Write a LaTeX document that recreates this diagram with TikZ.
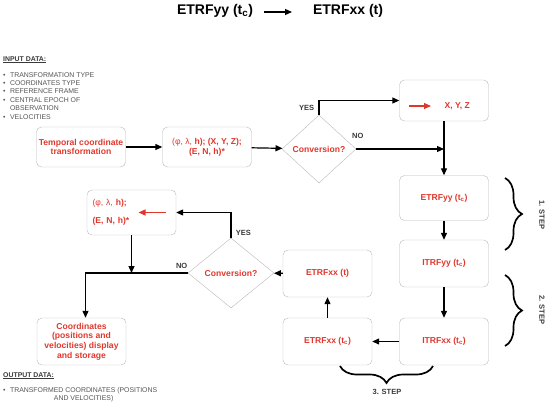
\documentclass[tikz,border=0pt]{standalone}
\usepackage{fontspec}
\setmainfont{Liberation Sans}
\usepackage{tikz}
\usepackage{xcolor}
\usetikzlibrary{shapes.geometric, arrows.meta, positioning, decorations.pathreplacing}
\definecolor{fcred}{HTML}{E0372C}
\definecolor{fcgray}{HTML}{B8B8B8}
\definecolor{fcdark}{HTML}{3A3A3A}
\definecolor{fcnote}{HTML}{555555}

\begin{document}
\begin{tikzpicture}[x=1pt, y=-1pt, font=\bfseries\fontsize{8.6}{9.8}\selectfont,
    box/.style={draw=fcgray, rounded corners=5pt, minimum width=89pt, minimum height=45pt,
        align=center, text=fcred, inner sep=2pt},
    decision/.style={diamond, draw=fcgray, inner sep=0pt, text=fcred},
    flow/.style={-{Triangle[length=7pt, width=6pt]}, line width=1.2pt, black},
    redflow/.style={-{Triangle[length=7pt, width=6pt]}, line width=1.2pt, fcred},
    tag/.style={font=\bfseries\fontsize{7.5}{8}\selectfont, text=fcdark},
    note/.style={font=\mdseries\fontsize{6.9}{8.4}\selectfont, text=fcnote, align=left, inner sep=0pt},
    stepbrace/.style={decorate, decoration={brace, amplitude=17pt}, line width=1.7pt}]
\useasboundingbox (0,0) rectangle (550,405);

\node[font=\bfseries\fontsize{14}{16}\selectfont] (ttl1) at (215,11) {ETRFyy (t\textsubscript{c})};
\node[font=\bfseries\fontsize{14}{16}\selectfont] (ttl2) at (348,11) {ETRFxx (t)};
\coordinate (ttla) at (264,12);
\coordinate (ttlb) at (292,12);
\draw[flow] (ttla) -- (ttlb);

\node[note, anchor=base west, text=fcdark] (indata) at (3,61) {\bfseries\underline{INPUT DATA:}};
\node[note, anchor=north west] (inlist) at (3,71) {%
    \begin{tabular}{@{}l@{\hspace{4.5pt}}l@{}}
    \textbullet & TRANSFORMATION TYPE\\
    \textbullet & COORDINATES TYPE\\
    \textbullet & REFERENCE FRAME\\
    \textbullet & CENTRAL EPOCH OF\\
                & OBSERVATION\\
    \textbullet & VELOCITIES
    \end{tabular}};

\node[box, minimum height=40pt] (temporal) at (81,147) {Temporal coordinate\\transformation};
\node[box, minimum height=40pt] (input) at (207,147) {{\mdseries(φ, λ,} h); (X, Y, Z);\\(E, N, h)*};
\node[decision, minimum width=74pt, minimum height=68pt] (conv1) at (319,149) {Conversion?};
\node[box, minimum height=41pt] (xyz) at (444,100.5) {};
\node[text=fcred, anchor=west] (xyzt) at ([xshift=-3pt, yshift=-5.5pt]xyz.center) {X, Y, Z};
\node[box] (etrfyyc) at (444,198) {ETRFyy (t\textsubscript{c})};
\node[box, minimum height=47pt] (itrfyyc) at (444,263.5) {ITRFyy (t\textsubscript{c})};
\node[box, minimum height=47pt] (itrfxxc) at (444,341.5) {ITRFxx (t\textsubscript{c})};
\node[box, minimum height=47pt] (etrfxxc) at (327.5,341.5) {ETRFxx (t\textsubscript{c})};
\node[box, minimum height=47pt] (etrfxxt) at (327.5,273.5) {ETRFxx (t)};
\node[decision, minimum width=86pt, minimum height=70pt] (conv2) at (231,273) {Conversion?};
\node[box, text width=78pt, inner xsep=5.5pt, align=left] (output) at (131.5,212.5)
    {{\mdseries(φ, λ,} h);\\[8.5pt](E, N, h)*};
\node[box, minimum height=47pt] (coords) at (81.5,341.5)
    {Coordinates\\(positions and\\velocities) display\\and storage};

\draw[redflow] ([xshift=-35pt, yshift=-5.5pt]xyz.center) -- ([xshift=-13pt, yshift=-5.5pt]xyz.center);
\draw[redflow] ([xshift=34pt]output.center) -- ([xshift=7pt]output.center);

\draw[flow] (temporal) -- (input);
\draw[flow] (input) -- (conv1);
\draw[flow] (conv1.north) |- node[tag, pos=0.25, left=1pt] (yes1) {YES} (xyz.west);
\coordinate (join1) at (conv1.east -| xyz.south);
\draw[flow] (conv1.east) -- node[tag, pos=0, above right=6pt and -8pt] (no1) {NO} (join1);
\draw[flow] (xyz) -- (etrfyyc);
\draw[flow] (etrfyyc) -- (itrfyyc);
\draw[flow] (itrfyyc) -- (itrfxxc);
\draw[flow] (itrfxxc) -- (etrfxxc);
\draw[flow] (etrfxxc) -- (etrfxxt);
\draw[flow] (etrfxxt) -- (conv2);
\draw[flow] (conv2.north) |- node[tag, pos=0.1, right=1pt] (yes2) {YES} (output.east);
\draw[flow] (conv2.west) -| node[tag, pos=0.03, above=0pt] (no2) {NO} ([xshift=4pt]coords.north);
\coordinate (join2) at (output.south |- conv2.west);
\draw[flow] (output) -- (join2);

\draw[stepbrace] (505,178) -- (505,250);
\node[tag, rotate=-90] (step1) at (542,215) {1. STEP};
\draw[stepbrace] (505,275) -- (505,346);
\node[tag, rotate=-90] (step2) at (542,310) {2. STEP};
\draw[stepbrace] (433,366) -- (340,366);
\node[tag] (step3) at (387,392) {3. STEP};

\node[note, anchor=base west, text=fcdark] (outdata) at (3,377) {\bfseries\underline{OUTPUT DATA:}};
\node[note, anchor=north west] (outlist) at (3,386) {%
    \begin{tabular}{@{}l@{\hspace{4.5pt}}c@{}}
    \textbullet & TRANSFORMED COORDINATES (POSITIONS\\
                & AND VELOCITIES)
    \end{tabular}};
\end{tikzpicture}
\end{document}
